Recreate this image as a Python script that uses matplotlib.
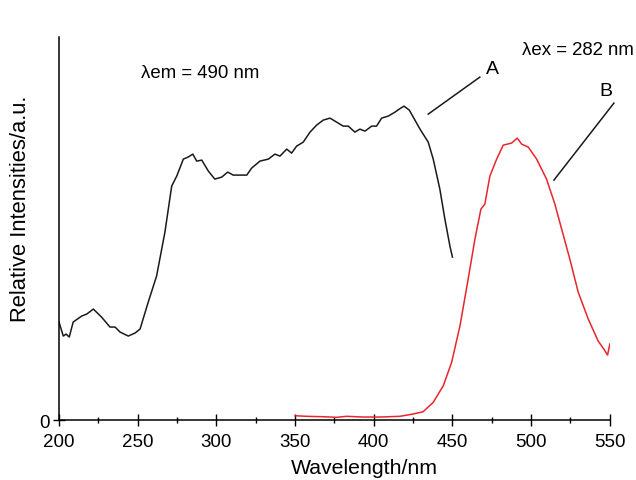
import numpy as np
import matplotlib
matplotlib.use("Agg")
import matplotlib.pyplot as plt

plt.rcParams['font.family'] = ['Liberation Sans', 'DejaVu Sans']

# curve A: excitation spectrum (lambda em = 490 nm)
wl_a = [200, 202.7, 204.5, 206.5, 209, 214.4, 217.6, 221.8, 227, 232.4, 235.6, 238.8,
        244, 248.3, 251.5, 256.7, 262, 267.3, 271.6, 274.8, 279, 282, 285, 287.5,
        290.7, 294.9, 299, 303.4, 307.2, 310.7, 315, 319.3, 322.4, 327.7, 333,
        337.2, 340.4, 344.7, 347.8, 351, 355.2, 359.5, 363.7, 367.9, 372.2, 376.4,
        380.6, 383.8, 388, 391.2, 394.4, 398.7, 401.8, 405, 409.2, 413.5, 416.2,
        419.2, 422.6, 425.1, 429.4, 434.6, 437.8, 442, 445.2, 448.4, 450]
int_a = [98, 84, 86, 83, 98, 104, 106, 111, 103, 93, 93, 88,
         84, 87, 91, 118, 144, 188, 234, 244, 261, 263, 266, 259,
         260, 249, 241, 243, 248, 245, 245, 245, 252, 259, 261,
         266, 264, 271, 267, 274, 278, 288, 295, 300, 302, 298,
         294, 294, 288, 291, 289, 294, 294, 302, 304, 308, 311,
         314, 310, 303, 291, 278, 261, 231, 201, 174, 163]

# curve B: emission spectrum (lambda ex = 282 nm)
wl_b = [350, 357.4, 368, 376.4, 382.8, 393.3, 404, 416.6, 425, 431.4, 437.8, 444.2,
        449.5, 454.8, 460, 464.3, 468.1, 470.6, 473.8, 478.1, 482.3, 487.6, 491.2,
        494, 498.2, 503.5, 509.8, 515.1, 519.4, 524.6, 529.9, 536.3, 542.6, 546.2,
        548.6, 550]
int_b = [4.3, 3.7, 3.3, 2.7, 3.7, 3, 3, 3.7, 6, 8.3, 17.7, 34.3,
         57.7, 94.3, 141, 181, 211, 216, 244, 261, 275, 277, 282,
         276, 273, 261, 241, 216, 191, 161, 128, 101, 79, 71,
         65, 76]

fig = plt.figure(figsize=(6.36, 4.81), dpi=100)
ax = fig.add_axes([0.0928, 0.1247, 0.866, 0.796])

ax.plot(wl_a, int_a, color='#1a1a1a', lw=1.1)
ax.plot(wl_b, int_b, color='#e8262b', lw=1.1)

ax.set_xlim(200, 550)
ax.set_ylim(0, 383)
ax.set_xticks(np.arange(200, 551, 50))
ax.set_xticks(np.arange(225, 550, 50), minor=True)
ax.set_yticks([0])
ax.tick_params(axis='both', which='major', direction='inout', length=9, width=1,
               labelsize=13.5, pad=2)
ax.tick_params(axis='x', which='major', pad=5)
ax.tick_params(axis='x', which='minor', direction='inout', length=5, width=1)
for s in ['top', 'right']:
    ax.spines[s].set_visible(False)
for s in ['left', 'bottom']:
    ax.spines[s].set_linewidth(1.1)

ax.set_xlabel('Wavelength/nm', fontsize=15.3)
ax.xaxis.set_label_coords(0.555, -0.098)
ax.set_ylabel('Relative Intensities/a.u.', fontsize=15.8)
ax.yaxis.set_label_coords(-0.05, 0.553)

# annotations
ax.text(0.148, 0.908, 'λem = 490 nm', transform=ax.transAxes, fontsize=13.4,
        ha='left', va='center')
ax.text(1.043, 0.968, 'λex = 282 nm', transform=ax.transAxes, fontsize=13.4,
        ha='right', va='center')
ax.plot([434.6, 467.4], [306, 343], color='#1a1a1a', lw=1.1)
ax.text(475.4, 352, 'A', fontsize=14, ha='center', va='center')
ax.plot([514.5, 552.6], [240, 317], color='#1a1a1a', lw=1.1, clip_on=False)
ax.text(547.8, 330, 'B', fontsize=14, ha='center', va='center')

fig.savefig('out.png', dpi=100)
